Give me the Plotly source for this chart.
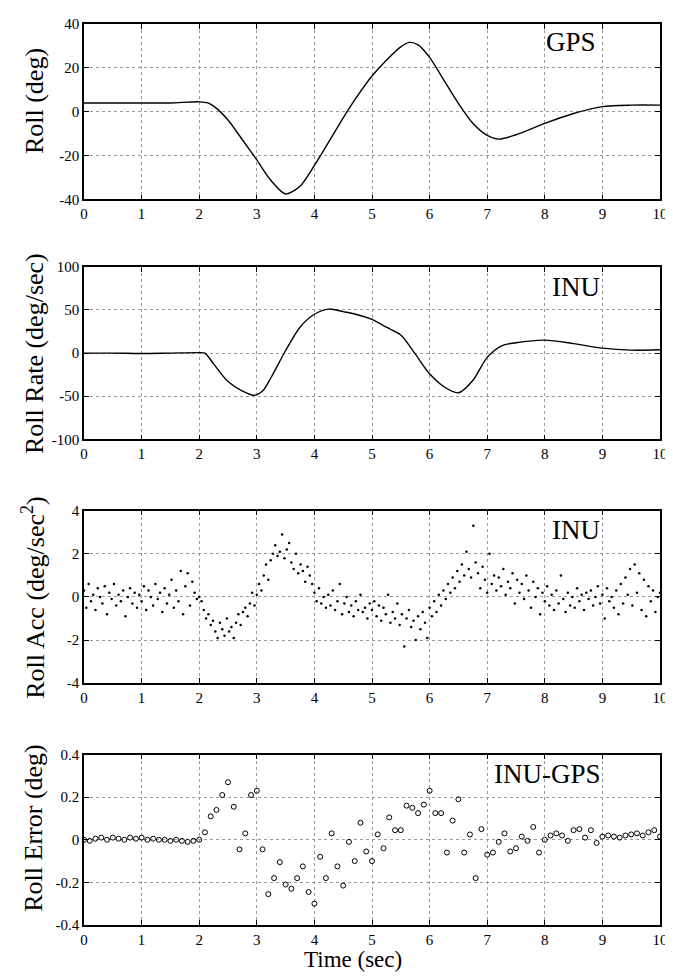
import plotly.graph_objects as go

# ---------------- data ----------------
gps_t = [0, 0.5, 1, 1.5, 2, 2.15, 2.3, 2.5, 2.75, 3, 3.25, 3.5, 3.75, 4, 4.25, 4.5, 4.75,
         5, 5.25, 5.5, 5.65, 5.8, 6, 6.25, 6.5, 6.75, 7, 7.2, 7.5, 8, 8.5, 9, 9.5, 10]
gps_roll = [4, 4, 4, 4, 4.5, 4, 1.5, -3.8, -12.8, -22.0, -31.5, -37.5, -34.0, -24.5, -13.8, -2.8, 7.3,
            16.3, 23.5, 29.6, 31.6, 30.5, 24.8, 14.3, 3.8, -5.3, -10.8, -12.5, -10.5, -5.3, -0.8, 2.3, 3, 3]

inu_t = [0, 0.5, 1, 1.5, 2, 2.1, 2.25, 2.5, 2.75, 2.95, 3.1, 3.25, 3.5, 3.75, 4, 4.25, 4.5, 4.75,
         5, 5.25, 5.5, 5.75, 6, 6.25, 6.5, 6.75, 7, 7.25, 7.5, 8, 8.5, 9, 9.5, 10]
inu_rate = [0, 0, -0.5, 0, 0.5, 0, -12.5, -33, -44, -49, -44, -28, 3, 30, 45, 51, 48, 44.5,
            39, 30, 21, -1, -24, -39, -46, -31.7, -5, 8.4, 12, 15, 11, 5.7, 3.4, 3.8]

acc_t = [i * 0.04 for i in range(251)]
acc = [
    0.3, -0.5, 0.6, -0.2, 0.1, -0.6, 0.4, 0.0, -0.3, 0.5, -0.8, 0.2, -0.1, 0.6, -0.4, 0.1, -0.2, 0.3, -0.9, 0.0, 0.4, -0.3, 0.2, -0.5, 0.1,
    -0.2, 0.5, -0.6, 0.3, 0.0, -0.4, 0.6, -0.1, 0.2, -0.7, 0.4, -0.3, 0.1, 0.8, -0.5, 0.3, -0.2, 1.2, -0.8, 0.5, 1.1, -0.4, 0.7, 0.2, -0.1,
    0.0, -0.2, -0.6, -1.0, -0.8, -1.3, -1.1, -1.6, -1.9, -1.2, -1.5, -1.8, -1.0, -1.6, -1.4, -1.9, -1.2, -0.8, -1.3, -0.7, -0.5, -0.9, -0.3, 0.2, -0.4,
    0.1, 0.6, 0.3, 1.0, 1.5, 0.8, 1.7, 2.0, 2.4, 1.9, 2.1, 2.9, 1.8, 2.2, 2.5, 1.6, 1.3, 2.0, 1.1, 1.5, 1.2, 0.7, 1.4, 1.0, 0.6,
    0.2, -0.2, 0.4, -0.3, 0.0, -0.5, 0.1, -0.4, 0.3, -0.6, -0.2, 0.6, -0.8, -0.3, 0.0, -0.7, -0.4, -0.9, -0.2, -0.6, 0.1, -0.7, -0.5, -1.0, -0.3,
    -0.6, -0.2, -0.9, -0.4, -1.1, -0.5, -0.8, 0.1, -1.2, -0.7, -1.0, -0.3, -1.3, -0.8, -2.3, -1.0, -0.6, -1.4, -1.1, -2.0, -0.9, -1.5, -0.7, -1.2, -1.9,
    -0.5, -0.9, -0.2, -0.7, 0.1, -0.4, 0.3, -0.1, 0.6, 0.2, 0.9, 0.4, 1.2, 0.7, 1.5, 1.0, 2.1, 1.3, 0.9, 3.3, 1.6, 1.1, 0.4, 1.4, 0.8,
    0.2, 2.0, 0.6, 1.0, 0.3, 0.9, 0.5, 1.3, 0.1, 0.7, 0.4, 1.1, -0.3, 0.8, 0.2, 0.6, -0.1, 1.0, 0.3, -0.5, 0.7, 0.0, 0.4, -0.8, 0.2,
    -0.2, 0.5, -0.4, 0.1, -0.6, 0.3, -0.3, 1.0, -0.1, -0.7, 0.2, -0.4, 0.0, -0.5, 0.4, -0.2, 0.1, -0.6, 0.2, -0.1, 0.3, -0.4, 0.0, 0.5, -0.3,
    0.1, -1.0, 0.4, -0.2, 0.0, -0.5, 0.3, -0.8, 0.6, -0.3, 0.9, 0.1, 1.3, -0.4, 1.5, 0.2, 1.1, -0.6, 0.8, -0.9, 0.5, -0.2, 0.3, -0.7, 0.0, 0.2,
]

err_t = [i * 0.1 for i in range(101)]
err = [
    0.0, -0.005, 0.005, 0.01, 0.0, 0.01, 0.005, 0.0, 0.01, 0.005,
    0.01, 0.0, 0.005, 0.0, 0.0, -0.005, 0.0, -0.005, -0.01, -0.005,
    0.0, 0.035, 0.11, 0.14, 0.21, 0.27, 0.155, -0.045, 0.03, 0.21,
    0.23, -0.045, -0.255, -0.18, -0.105, -0.21, -0.23, -0.18, -0.125, -0.245,
    -0.3, -0.08, -0.18, 0.03, -0.125, -0.215, -0.01, -0.1, 0.08, -0.055,
    -0.1, 0.025, -0.04, 0.105, 0.045, 0.045, 0.16, 0.15, 0.125, 0.165,
    0.23, 0.125, 0.125, -0.06, 0.09, 0.19, -0.06, 0.025, -0.18, 0.05,
    -0.07, -0.06, -0.01, 0.03, -0.055, -0.04, 0.015, -0.005, 0.06, -0.06,
    0.0, 0.02, 0.03, 0.02, -0.005, 0.045, 0.05, 0.01, 0.045, -0.015,
    0.015, 0.02, 0.015, 0.01, 0.02, 0.025, 0.03, 0.02, 0.035, 0.045, 0.015,
]

x_ticks = list(range(11))
y1_ticks = [-40, -20, 0, 20, 40]
y2_ticks = [-100, -50, 0, 50, 100]
y3_ticks = [-4, -2, 0, 2, 4]
y4_ticks = [-0.4, -0.2, 0, 0.2, 0.4]
y4_labels = ["-0.4", "-0.2", "0", "0.2", "0.4"]

panel_titles = ["GPS", "INU", "INU", "INU-GPS"]
y_titles = ["Roll (deg)", "Roll Rate (deg/sec)", "Roll Acc (deg/sec<sup>2</sup>)", "Roll Error (deg)"]
x_title = "Time (sec)"

# ---------------- figure ----------------
FONT = "Liberation Serif, Times New Roman, serif"
fig = go.Figure()

fig.add_trace(go.Scatter(x=gps_t, y=gps_roll, mode="lines", line=dict(color="black", width=1.4, shape="spline", smoothing=0.8),
                         xaxis="x", yaxis="y", showlegend=False))
fig.add_trace(go.Scatter(x=inu_t, y=inu_rate, mode="lines", line=dict(color="black", width=1.4, shape="spline", smoothing=0.8),
                         xaxis="x2", yaxis="y2", showlegend=False))
fig.add_trace(go.Scatter(x=acc_t, y=acc, mode="markers", marker=dict(color="black", size=2.5),
                         xaxis="x3", yaxis="y3", showlegend=False))
fig.add_trace(go.Scatter(x=err_t, y=err, mode="markers",
                         marker=dict(symbol="circle-open", color="black", size=5, line=dict(width=1, color="black")),
                         xaxis="x4", yaxis="y4", showlegend=False))

domains = [[0.8053, 1.0], [0.539, 0.7305], [0.2684, 0.4598], [0.0, 0.1892]]
yranges = [[-40, 40], [-100, 100], [-4, 4], [-0.4, 0.4]]
yticks = [(y1_ticks, [str(v) for v in y1_ticks]), (y2_ticks, [str(v) for v in y2_ticks]),
          (y3_ticks, [str(v) for v in y3_ticks]), (y4_ticks, y4_labels)]

axis_common = dict(showline=True, linecolor="black", linewidth=1.5, mirror="ticks",
                   ticks="inside", ticklen=5, tickcolor="black", tickwidth=1,
                   showgrid=True, gridcolor="#999999", griddash="dot", gridwidth=1,
                   zeroline=False, tickfont=dict(family=FONT, size=15, color="black"))

layout = dict(width=673, height=976, margin=dict(l=76, r=21, t=8, b=59),
              paper_bgcolor="white", plot_bgcolor="white", showlegend=False)
for i in range(4):
    sx = "" if i == 0 else str(i + 1)
    layout["xaxis" + sx] = dict(axis_common, domain=[0, 1], range=[0, 10], tickvals=x_ticks,
                                ticktext=[str(v) for v in x_ticks], anchor="y" + sx)
    layout["yaxis" + sx] = dict(axis_common, domain=domains[i], range=yranges[i],
                                tickvals=yticks[i][0], ticktext=yticks[i][1], anchor="x" + sx)
fig.update_layout(**layout)

# panel labels
label_pos = [(8.46, 31.8), (8.55, 77), (8.55, 3.1), (8.05, 0.31)]
for i, (txt, (lx, ly)) in enumerate(zip(panel_titles, label_pos)):
    sx = "" if i == 0 else str(i + 1)
    fig.add_annotation(x=lx, y=ly, xref="x" + sx, yref="y" + sx, text=txt, showarrow=False,
                       font=dict(family=FONT, size=27, color="black"), xanchor="center", yanchor="middle")

# y titles
ytitle_y = [0.56, 0.5, 0.5, 0.57]
for i, txt in enumerate(y_titles):
    sy = "y" if i == 0 else "y" + str(i + 1)
    fig.add_annotation(x=-0.087, y=ytitle_y[i], xref="paper", yref=sy + " domain", text=txt, showarrow=False,
                       textangle=-90, font=dict(family=FONT, size=26, color="black"),
                       xanchor="center", yanchor="middle")

fig.add_annotation(x=0.467, y=-0.038, xref="paper", yref="paper", text=x_title, showarrow=False,
                   font=dict(family=FONT, size=23, color="black"), xanchor="center", yanchor="middle")

fig.write_html("out.html")
